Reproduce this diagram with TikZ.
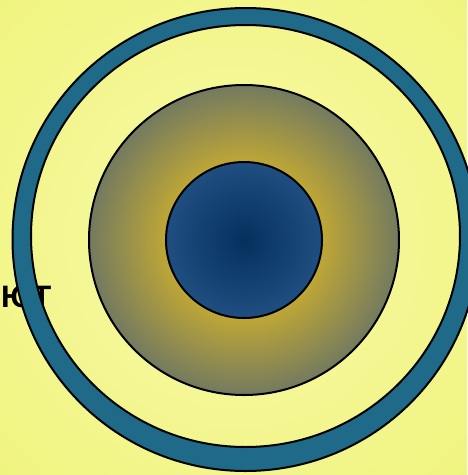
\documentclass[tikz,border=0pt]{standalone}
\usepackage{fontspec}
\newfontfamily\wordfont{Liberation Sans}
\usepackage{tikz}
\usetikzlibrary{shadings}

\definecolor{bgin}{HTML}{F7F9A8}
\definecolor{bgout}{HTML}{F0F47E}
\definecolor{ringblue}{HTML}{1E6A88}
\definecolor{goldin}{HTML}{D2B022}
\definecolor{goldmid}{HTML}{BFA736}
\definecolor{goldout}{HTML}{737A5F}
\definecolor{corein}{HTML}{04305E}
\definecolor{coreout}{HTML}{1F4E80}

\pgfdeclareradialshading{bgshade}{\pgfpoint{0bp}{0bp}}{color(0bp)=(bgin); color(36bp)=(bgout); color(50bp)=(bgout)}
\pgfdeclareradialshading{goldshade}{\pgfpoint{0bp}{0bp}}{color(0bp)=(goldin); color(6bp)=(goldin); color(12.5bp)=(goldmid); color(25bp)=(goldout); color(50bp)=(goldout)}
\pgfdeclareradialshading{coreshade}{\pgfpoint{0bp}{0bp}}{color(0bp)=(corein); color(25bp)=(coreout); color(50bp)=(coreout)}

\begin{document}
\begin{tikzpicture}[x=1pt, y=-1pt, outline/.style={draw=black, line width=2pt}]
\useasboundingbox (0,0) rectangle (467,475);
% background
\shade[shading=bgshade] (0,0) rectangle (467,475);
% text behind the ring
\node[anchor=base west, inner sep=0pt, font=\wordfont\bfseries\fontsize{31}{31}\selectfont] (word) at (1,307) {ЮТ};
% ring
\fill[ringblue, even odd rule] (245.5,239.5) ellipse (233 and 231.5) (245.5,236) ellipse (214.5 and 211);
\draw[outline] (245.5,239.5) ellipse (233 and 231.5);
\draw[outline] (245.5,236) ellipse (214.5 and 211);
% middle disc
\shade[shading=goldshade, outline] (244,240) circle (155);
% core
\shade[shading=coreshade, outline] (244,240) circle (78);
\end{tikzpicture}
\end{document}
